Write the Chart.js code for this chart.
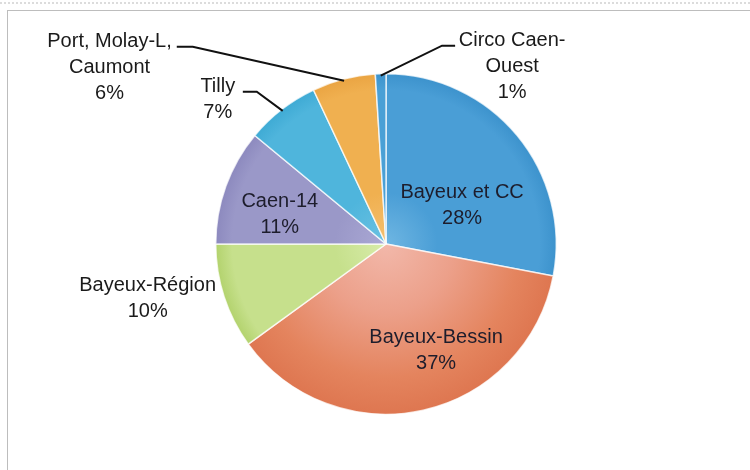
<!DOCTYPE html>
<html><head><meta charset="utf-8">
<script src="https://cdn.jsdelivr.net/npm/chart.js@4/dist/chart.umd.min.js"></script>
<style>
html,body{margin:0;padding:0;background:#fff;}
#wrap{position:relative;width:750px;height:470px;overflow:hidden;background:#fff;}
#frame{position:absolute;left:7px;top:10px;width:800px;height:500px;border-top:1px solid #bdbdbd;border-left:1px solid #bdbdbd;}
#scan{position:absolute;left:0;top:2px;width:750px;height:0;border-top:2px dotted #dcdcdc;}
canvas{position:absolute;left:0;top:0;}
</style></head><body>
<div id="wrap"><div id="scan"></div><div id="frame"></div><canvas id="c" width="750" height="470"></canvas></div>
<script>
// ---- data ----
const categories = ["Bayeux et CC", "Bayeux-Bessin", "Bayeux-Région", "Caen-14", "Tilly", "Port, Molay-L, Caumont", "Circo Caen-Ouest"];
const labelLines = [["Bayeux et CC"], ["Bayeux-Bessin"], ["Bayeux-Région"], ["Caen-14"], ["Tilly"], ["Port, Molay-L,", "Caumont"], ["Circo Caen-", "Ouest"]];
const shares = [28, 37, 10, 11, 7, 6, 1];
const percentLabels = ["28%", "37%", "10%", "11%", "7%", "6%", "1%"];

// ---- styles ----
const lightColors = ["#6fb6e2", "#f2b8aa", "#d8ecaa", "#aaa8d4", "#6cc2e2", "#f5c070", "#6cb4e0"];
const baseColors  = ["#4a9ed6", "#eca08a", "#c6e08c", "#9a98c8", "#4fb5dc", "#f0b050", "#4aa0d6"];
const rimColors   = ["#4a9ed6", "#e4845e", "#c6e08c", "#9a98c8", "#4fb5dc", "#f0b050", "#4aa0d6"];
const darkColors  = ["#3c92cc", "#de7650", "#b2d26c", "#8c89be", "#3eaad4", "#eaa442", "#3c92cc"];
const midStops    = [0.3, 0.4, 0.3, 0.3, 0.3, 0.3, 0.3];
const rimStops    = [0.9, 0.78, 0.9, 0.9, 0.9, 0.9, 0.9];

// label placement, in units of the pie radius, relative to the pie centre
const placement = [
  {dx: 0.447, dy: -0.224},
  {dx: 0.294, dy: 0.624},
  {dx: -1.40, dy: 0.318},
  {dx: -0.624, dy: -0.171},
  {dx: -0.988, dy: -0.847, elbow: [-0.759, -0.894], hend: -0.841},
  {dx: -1.624, dy: -1.035, elbow: [-1.135, -1.159], hend: -1.229},
  {dx: 0.741, dy: -1.041, elbow: [0.329, -1.165], hend: 0.406}
];

function sliceFill(ctx) {
  const chart = ctx.chart;
  const i = ctx.dataIndex;
  const area = chart.chartArea;
  if (!area) return baseColors[i];
  const cx = (area.left + area.right) / 2, cy = (area.top + area.bottom) / 2;
  const r = Math.min(area.right - area.left, area.bottom - area.top) / 2;
  const g = chart.ctx.createRadialGradient(cx, cy, 0, cx, cy, r);
  g.addColorStop(0, lightColors[i]);
  g.addColorStop(midStops[i], baseColors[i]);
  g.addColorStop(rimStops[i], rimColors[i]);
  g.addColorStop(1, darkColors[i]);
  return g;
}

const labelPlugin = {
  id: 'sliceLabels',
  afterDatasetsDraw(chart) {
    const ctx = chart.ctx;
    const arcs = chart.getDatasetMeta(0).data;
    ctx.save();
    ctx.font = '20px "Liberation Sans", Arial, sans-serif';
    ctx.textAlign = 'center';
    ctx.textBaseline = 'middle';
    const lh = 26;
    arcs.forEach((arc, i) => {
      const p = placement[i];
      const r = arc.outerRadius;
      const cx = arc.x, cy = arc.y;
      if (p.elbow) {
        const mid = (arc.startAngle + arc.endAngle) / 2;
        const sx = cx + Math.cos(mid) * r * 0.99;
        const sy = cy + Math.sin(mid) * r * 0.99;
        const ex = cx + p.elbow[0] * r, ey = cy + p.elbow[1] * r;
        const hx = cx + p.hend * r;
        ctx.strokeStyle = '#111';
        ctx.lineWidth = 2;
        ctx.beginPath();
        ctx.moveTo(sx, sy);
        ctx.lineTo(ex, ey);
        ctx.lineTo(hx, ey);
        ctx.stroke();
      }
      const lines = labelLines[i].concat([percentLabels[i]]);
      const tx = cx + p.dx * r;
      const ty = cy + p.dy * r;
      ctx.fillStyle = (p.elbow || i === 2) ? '#1a1a1a' : '#1d1d2c';
      lines.forEach((t, k) => {
        ctx.fillText(t, tx, ty + (k - (lines.length - 1) / 2) * lh);
      });
    });
    ctx.restore();
  }
};

new Chart(document.getElementById('c'), {
  type: 'pie',
  data: {
    labels: categories,
    datasets: [{
      data: shares,
      backgroundColor: sliceFill,
      borderColor: 'rgba(255,255,255,0.75)',
      borderWidth: 1.5
    }]
  },
  options: {
    responsive: false,
    animation: false,
    layout: {padding: {left: 215, right: 193, top: 73, bottom: 55}},
    plugins: {legend: {display: false}, tooltip: {enabled: false}}
  },
  plugins: [labelPlugin]
});
</script>
</body></html>
